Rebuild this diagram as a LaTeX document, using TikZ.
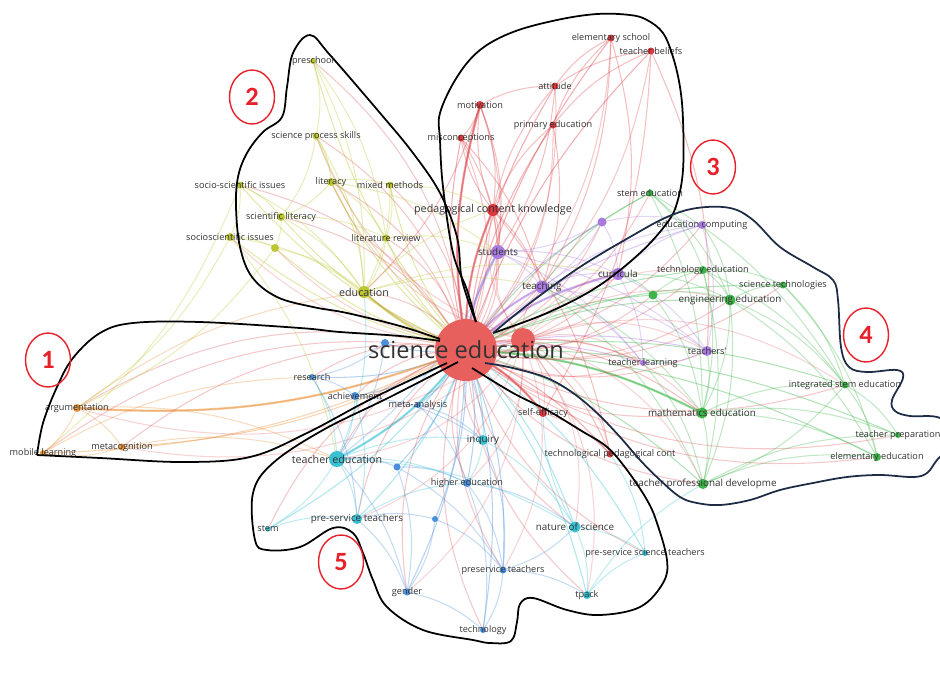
\documentclass[tikz,border=0pt]{standalone}
\usepackage{fontspec}
\setmainfont{Open Sans}
\newfontfamily\numfont{Carlito}
\usetikzlibrary{shapes.geometric,backgrounds}

\definecolor{cred}{HTML}{D9383E}
\definecolor{hubred}{HTML}{E8605E}
\definecolor{cyellow}{HTML}{BCC633}
\definecolor{cpurple}{HTML}{A97BE0}
\definecolor{cgreen}{HTML}{3DB54A}
\definecolor{corange}{HTML}{E8923A}
\definecolor{cblue}{HTML}{4A8FDB}
\definecolor{ccyan}{HTML}{38C1D3}
\definecolor{txt}{HTML}{333333}
\definecolor{navy}{HTML}{1E2B45}
\definecolor{ringred}{HTML}{E8202A}

\newcommand\lblsize[1]{\fontsize{#1}{#1}\selectfont}

\begin{document}
\begin{tikzpicture}[x=0.02cm, y=-0.02cm,
    dot/.style={circle, inner sep=0pt, minimum size=#1*0.04cm},
    lbl/.style={text=txt, font=\lblsize{5.2}, inner sep=0pt},
    lab/.style={label={[lbl]center:#1}},
    labm/.style={label={[lbl, font=\lblsize{5.6}]center:#1}},
    labb/.style={label={[lbl, font=\lblsize{6.1}]center:#1}},
    link/.style={draw=#1, line width=0.6pt, opacity=0.4},
    heavy/.style={draw=#1, line width=1.3pt, opacity=0.5},
    petal/.style={draw=black, line width=1pt},
    ringnum/.style={ellipse, draw=ringred, line width=0.8pt, minimum width=0.9cm,
        minimum height=1.08cm, inner sep=0pt, text=ringred, font=\numfont\bfseries\lblsize{15}}]

\useasboundingbox (0,0) rectangle (940,674);

% cluster 3 (red)
\node[dot=31, fill=hubred] (hub) at (466,350) {};
\node[dot=12, fill=hubred] (hubb) at (523,340) {};
\node[dot=6, fill=cred, labb=pedagogical content knowledge] (pck) at (493,210) {};
\node[dot=4, fill=cred, lab=motivation] (motiv) at (480,105) {};
\node[dot=3.5, fill=cred, lab=misconceptions] (miscon) at (461,138) {};
\node[dot=3.5, fill=cred, lab=attitude] (attit) at (555,86) {};
\node[dot=3.5, fill=cred, lab=primary education] (primed) at (553,125) {};
\node[dot=3.5, fill=cred, lab=elementary school] (elemsch) at (611,38) {};
\node[dot=3.5, fill=cred, lab=teacher beliefs] (tbelief) at (651,51) {};
\node[dot=4, fill=cred, lab=self-efficacy] (selfeff) at (543,413) {};
\node[dot=3.5, fill=cred, lab=technological pedagogical cont] (tpcont) at (610,454) {};

% cluster 2 (yellow)
\node[dot=3, fill=cyellow, lab=preschool] (presch) at (313,61) {};
\node[dot=3.5, fill=cyellow, lab=science process skills] (spskill) at (316,136) {};
\node[dot=4, fill=cyellow, lab=literacy] (litcy) at (331,182) {};
\node[dot=3.5, fill=cyellow, lab=mixed methods] (mixed) at (390,185) {};
\node[dot=3.5, fill=cyellow, lab=socio-scientific issues] (ssi) at (240,185) {};
\node[dot=4, fill=cyellow, lab=scientific literacy] (scilit) at (281,217) {};
\node[dot=4, fill=cyellow, lab=socioscientific issues] (ssib) at (230,237) {};
\node[dot=4, fill=cyellow] (ylw) at (275,248) {};
\node[dot=3.5, fill=cyellow, lab=literature review] (litrev) at (386,238) {};
\node[dot=6, fill=cyellow, labb=education] (edu) at (364,292) {};

% purple
\node[dot=7, fill=cpurple, labm=students] (students) at (498,252) {};
\node[dot=6.5, fill=cpurple, labm=teaching] (teaching) at (542,287) {};
\node[dot=6, fill=cpurple, labm=curricula] (curric) at (618,274) {};
\node[dot=4.5, fill=cpurple] (prp) at (602,222) {};
\node[dot=4, fill=cpurple, lab=education computing] (educomp) at (702,225) {};
\node[dot=5, fill=cpurple, lab=teachers'] (teachers) at (707,351) {};
\node[dot=3, fill=cpurple, lab=teacher learning] (tlearn) at (643,363) {};

% cluster 4 (green)
\node[dot=3.5, fill=cgreen, lab=stem education] (stemedu) at (650,193) {};
\node[dot=4, fill=cgreen, lab=technology education] (techedu) at (703,270) {};
\node[dot=5.5, fill=cgreen, labm=engineering education] (engedu) at (730,300) {};
\node[dot=3.5, fill=cgreen, lab=science technologies] (scitech) at (783,285) {};
\node[dot=4.5, fill=cgreen] (grn) at (653,295) {};
\node[dot=3.5, fill=cgreen, lab=integrated stem education] (integ) at (845,385) {};
\node[dot=5.5, fill=cgreen, labm=mathematics education] (mathedu) at (702,413) {};
\node[dot=3, fill=cgreen, lab=teacher preparation] (tprep) at (898,435) {};
\node[dot=4, fill=cgreen, lab=elementary education] (elemedu) at (877,457) {};
\node[dot=5, fill=cgreen, labm=teacher professional developme] (tprof) at (703,484) {};

% cluster 1 (orange)
\node[dot=4, fill=corange, lab=argumentation] (argu) at (77,408) {};
\node[dot=3.5, fill=corange, lab=metacognition] (metac) at (122,447) {};
\node[dot=3, fill=corange, lab=mobile learning] (mobile) at (43,453) {};

% cluster 5 (blue)
\node[dot=3, fill=cblue, lab=research] (research) at (312,377) {};
\node[dot=4, fill=cblue, lab=achievement] (achieve) at (355,396) {};
\node[dot=3, fill=cblue, lab=meta-analysis] (metaan) at (418,405) {};
\node[dot=4, fill=cblue] (blua) at (385,343) {};
\node[dot=5, fill=ccyan, labm=inquiry] (inquiry) at (483,440) {};
\node[dot=8, fill=ccyan, labb=teacher education] (teachedu) at (337,459) {};
\node[dot=3.5, fill=cblue] (blub) at (397,467) {};
\node[dot=4, fill=cblue, lab=higher education] (highedu) at (467,483) {};
\node[dot=5, fill=ccyan, labm=pre-service teachers] (preserv) at (357,519) {};
\node[dot=3, fill=cblue] (bluc) at (435,519) {};
\node[dot=2.5, fill=ccyan, lab=stem] (stem) at (268,529) {};
\node[dot=5.5, fill=ccyan, labm=nature of science] (nos) at (575,527) {};
\node[dot=3, fill=ccyan, lab=pre-service science teachers] (psst) at (645,553) {};
\node[dot=3.5, fill=cblue, lab=preservice teachers] (prsv) at (503,570) {};
\node[dot=3.5, fill=cblue, lab=gender] (gender) at (407,592) {};
\node[dot=4, fill=ccyan, lab=tpack] (tpack) at (587,595) {};
\node[dot=3, fill=cblue, lab=technology] (techno) at (483,630) {};

\node[text=txt, inner sep=0pt, font=\lblsize{13.4}] (hubtxt) at (466,350) {science education};

\begin{pgfonlayer}{background}
  % links from the hub
  \foreach \t/\c in {argu/corange, metac/corange, mobile/corange,
      presch/cyellow, spskill/cyellow, litcy/cyellow, mixed/cyellow, ssi/cyellow, scilit/cyellow,
      ssib/cyellow, ylw/cyellow, litrev/cyellow, edu/cyellow,
      pck/cred, motiv/cred, miscon/cred, attit/cred, primed/cred, elemsch/cred, tbelief/cred,
      selfeff/cred, tpcont/cred, hubb/cred,
      students/cpurple, teaching/cpurple, curric/cpurple, prp/cpurple, educomp/cpurple,
      teachers/cpurple, tlearn/cpurple,
      stemedu/cgreen, techedu/cgreen, engedu/cgreen, scitech/cgreen, grn/cgreen, integ/cgreen,
      mathedu/cgreen, tprep/cgreen, elemedu/cgreen, tprof/cgreen,
      research/cblue, achieve/cblue, metaan/cblue, blua/cblue, inquiry/ccyan, teachedu/ccyan,
      blub/cblue, highedu/cblue, preserv/ccyan, bluc/cblue, stem/ccyan, nos/ccyan, psst/ccyan,
      prsv/cblue, gender/cblue, tpack/ccyan, techno/cblue}
    \draw[link=\c] (hub.center) to[bend left=12] (\t.center);
  \foreach \t/\c in {pck/cred, students/cpurple, teachedu/ccyan, edu/cyellow, argu/corange,
      teaching/cpurple, mathedu/cgreen, motiv/cred, curric/cpurple, selfeff/cred}
    \draw[heavy=\c] (hub.center) to[bend left=12] (\t.center);
  % red links from the hub spread out
  \foreach \t in {litcy, ssi, scilit, students, teaching, curric, engedu, tlearn, teachers,
      mathedu, tprof, nos, teachedu, inquiry, highedu, prsv, achieve, research, edu, integ,
      spskill, presch, mixed, litrev, techedu, stemedu, educomp, scitech, elemedu, tprep,
      psst, tpack, gender, techno, preserv, stem, metac, argu, mobile, attit, elemsch, tbelief,
      primed, miscon, motiv, pck, prp, grn}
    \draw[link=cred, opacity=0.28] (hub.center) to[bend right=22] (\t.center);
  \foreach \t in {ssib, ylw, litcy, spskill, students, teaching, pck, curric, teachers, tlearn,
      mathedu, tprof, engedu, techedu, integ, nos, tpack, highedu, gender, prsv, preserv,
      teachedu, argu, metac, edu, tpcont, selfeff}
    \draw[link=cred, opacity=0.22] (hubb.center) to[bend left=25] (\t.center);
  % links within and across the clusters
  \foreach \a/\b/\c in {pck/motiv/cred, pck/miscon/cred, pck/attit/cred, pck/primed/cred,
      motiv/miscon/cred, motiv/attit/cred, attit/elemsch/cred, attit/tbelief/cred,
      primed/tbelief/cred, primed/elemsch/cred, miscon/students/cred, motiv/students/cred,
      tbelief/selfeff/cred, elemsch/teaching/cred, selfeff/tpcont/cred, pck/tpcont/cred,
      hubb/tlearn/cred, hubb/mathedu/cred, hubb/tpcont/cred, motiv/edu/cred,
      miscon/teaching/cred, attit/students/cred, tbelief/teachers/cred, elemsch/curric/cred,
      primed/teaching/cred, motiv/pck/cred, pck/students/cred, pck/teaching/cred,
      presch/spskill/cyellow, presch/edu/cyellow, spskill/litcy/cyellow, spskill/scilit/cyellow,
      litcy/mixed/cyellow, litcy/edu/cyellow, ssi/scilit/cyellow, ssi/ssib/cyellow,
      scilit/ylw/cyellow, ssib/ylw/cyellow, litrev/edu/cyellow, mixed/edu/cyellow,
      mixed/litrev/cyellow, ylw/edu/cyellow, scilit/edu/cyellow, ssib/argu/cyellow,
      ssi/mobile/cyellow, edu/pck/cyellow, litcy/students/cyellow, spskill/edu/cyellow,
      presch/litrev/cyellow, ssi/edu/cyellow, litcy/scilit/cyellow, mixed/pck/cyellow,
      litrev/students/cyellow, edu/teaching/cyellow, scilit/litrev/cyellow, ssib/edu/cyellow,
      edu/curric/cyellow, litcy/litrev/cyellow, ssib/teachedu/cyellow, ylw/argu/cyellow,
      students/teaching/cpurple, teaching/curric/cpurple, curric/educomp/cpurple,
      prp/curric/cpurple, prp/students/cpurple, educomp/teachers/cpurple, teachers/tlearn/cpurple,
      curric/teachers/cpurple, teaching/tlearn/cpurple, students/curric/cpurple,
      prp/educomp/cpurple, teaching/educomp/cpurple, students/teachers/cpurple,
      curric/tlearn/cpurple, prp/teaching/cpurple, students/tlearn/cpurple, teaching/teachers/cpurple,
      stemedu/techedu/cgreen, stemedu/engedu/cgreen, techedu/engedu/cgreen, engedu/scitech/cgreen,
      engedu/mathedu/cgreen, techedu/mathedu/cgreen, grn/engedu/cgreen, engedu/integ/cgreen,
      integ/tprep/cgreen, integ/elemedu/cgreen, mathedu/tprof/cgreen, mathedu/integ/cgreen,
      tprof/elemedu/cgreen, tprof/tprep/cgreen, scitech/integ/cgreen, mathedu/elemedu/cgreen,
      techedu/tprof/cgreen, educomp/engedu/cgreen, curric/grn/cgreen, teaching/stemedu/cgreen,
      grn/mathedu/cgreen, tlearn/tprof/cgreen, teachers/mathedu/cgreen, scitech/elemedu/cgreen,
      techedu/scitech/cgreen, engedu/tprof/cgreen, engedu/elemedu/cgreen, techedu/integ/cgreen,
      stemedu/mathedu/cgreen, grn/techedu/cgreen, curric/engedu/cgreen, teaching/mathedu/cgreen,
      mathedu/tprep/cgreen, integ/tprof/cgreen, stemedu/integ/cgreen, teaching/tprof/cgreen,
      argu/metac/corange, argu/mobile/corange, metac/mobile/corange, argu/teachedu/corange,
      argu/edu/corange, metac/teachedu/corange, mobile/research/corange,
      research/achieve/cblue, achieve/teachedu/ccyan, teachedu/preserv/ccyan, teachedu/stem/ccyan,
      research/teachedu/ccyan, preserv/gender/cblue, highedu/prsv/cblue, prsv/techno/cblue,
      gender/techno/cblue, blub/highedu/cblue, blub/gender/cblue, metaan/inquiry/cblue,
      inquiry/highedu/ccyan, nos/tpack/ccyan, nos/psst/ccyan, nos/selfeff/ccyan, tpack/psst/ccyan,
      prsv/tpack/cblue, blua/teachedu/cblue, bluc/gender/cblue, highedu/techno/cblue,
      tpcont/psst/ccyan, edu/teachedu/ccyan, students/teachedu/cblue, blua/research/cblue,
      achieve/preserv/ccyan, inquiry/nos/ccyan, teachedu/highedu/ccyan, bluc/prsv/cblue,
      stem/preserv/ccyan, tpack/tprof/ccyan, teachedu/inquiry/ccyan, preserv/highedu/ccyan,
      teachedu/nos/ccyan, metaan/highedu/cblue, achieve/inquiry/cblue, blub/prsv/cblue,
      inquiry/prsv/cblue, nos/prsv/cblue, teachedu/gender/cblue, preserv/bluc/cblue,
      highedu/nos/cblue, teachedu/blub/cblue, research/preserv/cblue}
    \draw[link=\c, opacity=0.32] (\a.center) to[bend left=14] (\b.center);
\end{pgfonlayer}

% cluster outlines
\draw[petal] plot[smooth, tension=0.6] coordinates {(440,341) (400,336) (340,332) (300,328)
    (200,322) (133,323) (100,333) (73,358) (57,387) (43,423) (37,455)};
\draw[petal] plot[smooth, tension=0.6] coordinates {(37,455) (100,458) (183,462) (250,457)
    (307,433) (373,398) (447,363)};
\draw[petal] plot[smooth, tension=0.6] coordinates {(476,322) (462,280) (457,237) (440,193)
    (413,153) (380,113) (330,55) (310,35) (293,53) (287,87) (282,117) (263,132) (247,153)
    (238,177) (236,207) (240,247) (252,277) (277,297) (313,307) (347,313) (400,326) (440,339)};
\draw[petal] plot[smooth, tension=0.6] coordinates {(476,322) (467,290) (453,253) (443,187)
    (440,140) (440,113) (457,77) (480,50) (513,32) (557,20) (597,14) (630,15) (647,20) (663,33)
    (673,57) (680,87) (683,120) (683,170) (677,203) (667,223) (640,253) (597,287) (547,313)
    (493,333)};
\begin{scope}
  \clip (0,0) rectangle (940,674);
  \draw[petal, draw=navy] plot[smooth, tension=0.6] coordinates {(493,333) (530,303) (580,267)
      (630,237) (667,217) (697,208) (730,208) (753,220) (780,247) (813,267) (833,280) (838,300)
      (841,347) (849,367) (867,372) (897,370) (903,378) (892,400) (895,411) (910,416) (940,418)
      (955,438) (937,460) (927,473) (913,477) (880,475) (847,477) (813,483) (780,490) (750,500)
      (720,505) (697,503) (680,497) (660,480) (640,460) (620,437) (597,413) (573,393) (547,378)
      (513,368) (485,363)};
\end{scope}
\draw[petal] plot[smooth, tension=0.6] coordinates {(472,368) (513,393) (547,410) (580,430)
    (607,447) (627,470) (647,500) (657,523) (667,560) (663,583) (640,607) (600,615) (567,610)
    (533,598) (520,604) (517,622) (511,641) (490,643) (473,640) (423,630) (387,607) (373,580)
    (363,553) (353,533) (333,528) (300,547) (267,550) (255,540) (253,493) (273,463) (323,430)
    (390,397) (458,362)};

% cluster numbers
\node[ringnum] (num1) at (48,360) {1};
\node[ringnum] (num2) at (252,97) {2};
\node[ringnum] (num3) at (713,167) {3};
\node[ringnum] (num4) at (866,335) {4};
\node[ringnum] (num5) at (341,562) {5};
\end{tikzpicture}
\end{document}
